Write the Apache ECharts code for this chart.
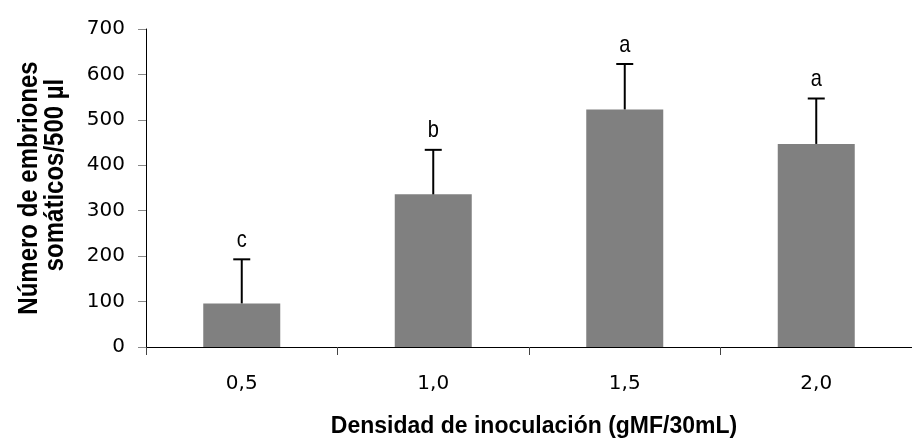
<!DOCTYPE html>
<html>
<head>
<meta charset="utf-8">
<script src="https://cdn.jsdelivr.net/npm/echarts@6/dist/echarts.min.js"></script>
<style>html,body{margin:0;padding:0;background:#fff;}#c{width:912px;height:438px;}</style>
</head>
<body>
<div id="c"></div>
<script>
const categories = ['0,5', '1,0', '1,5', '2,0'];
const means = [96, 336, 523, 447];
const errors = [97, 98, 100, 100];
const letters = ['c', 'b', 'a', 'a'];
const yTicks = [0, 700, 100];

const chart = echarts.init(document.getElementById('c'), null, {renderer: 'canvas'});
const FONT = '"Liberation Sans", Arial, sans-serif';
const TICKFONT = '"DejaVu Sans", sans-serif';

chart.setOption({
  animation: false,
  backgroundColor: '#fff',
  grid: {left: 146, top: 29, width: 780, height: 318, containLabel: false},
  xAxis: {
    type: 'category',
    data: categories,
    axisLine: {lineStyle: {color: '#000', width: 1}},
    axisTick: {show: true, length: 8, inside: false, lineStyle: {color: '#444'}},
    axisLabel: {fontFamily: TICKFONT, fontSize: 20, color: '#000', margin: 27}
  },
  yAxis: {
    type: 'value',
    min: yTicks[0], max: yTicks[1], interval: yTicks[2],
    axisLine: {show: true, lineStyle: {color: '#000', width: 1}},
    axisTick: {show: true, length: 8, lineStyle: {color: '#888'}},
    splitLine: {show: false},
    axisLabel: {fontFamily: TICKFONT, fontSize: 20, color: '#000', margin: 21}
  },
  graphic: [
    {type: 'text', x: 29, y: 188, rotation: Math.PI / 2, scaleY: 1.18,
     style: {text: 'Número de embriones', font: 'bold 24px ' + FONT, fill: '#000', align: 'center', verticalAlign: 'middle'}},
    {type: 'text', x: 55, y: 175, rotation: Math.PI / 2, scaleY: 1.18,
     style: {text: 'somáticos/500 µl', font: 'bold 24px ' + FONT, fill: '#000', align: 'center', verticalAlign: 'middle'}},
    {type: 'text', x: 534, y: 426, scaleY: 1.06,
     style: {text: 'Densidad de inoculación (gMF/30mL)', font: 'bold 23px ' + FONT, fill: '#000', align: 'center', verticalAlign: 'middle'}}
  ],
  series: [
    {
      type: 'bar',
      data: means,
      barWidth: 77,
      itemStyle: {color: '#808080'},
      z: 2
    },
    {
      type: 'custom',
      data: means.map((m, i) => [i, m, m + errors[i]]),
      z: 3,
      renderItem: function (params, api) {
        const x = api.value(0);
        const p0 = api.coord([x, api.value(1)]);
        const p1 = api.coord([x, api.value(2)]);
        const half = 8.5;
        return {
          type: 'group',
          children: [
            {type: 'line', shape: {x1: p0[0], y1: p0[1], x2: p1[0], y2: p1[1]}, style: {stroke: '#000', lineWidth: 2}},
            {type: 'line', shape: {x1: p1[0] - half, y1: p1[1], x2: p1[0] + half, y2: p1[1]}, style: {stroke: '#000', lineWidth: 2}},
            {type: 'text', x: p1[0], y: p1[1] - 19, scaleY: 1.2,
             style: {text: letters[params.dataIndex], font: '20px ' + FONT, fill: '#000', align: 'center', verticalAlign: 'middle'}}
          ]
        };
      }
    }
  ]
});
</script>
</body>
</html>
